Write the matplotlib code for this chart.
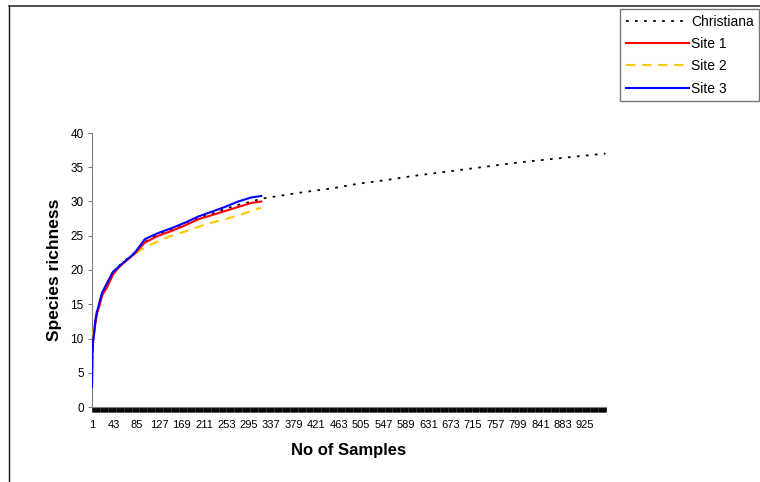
import matplotlib
matplotlib.use("Agg")
import matplotlib.pyplot as plt
from matplotlib.lines import Line2D

plt.rcParams['font.family'] = ['Liberation Sans', 'DejaVu Sans']

# sample counts and mean species richness read at those counts
site_n = [1, 2, 3, 5, 7, 10, 15, 20, 30, 40, 50, 60, 80, 100, 125, 150,
          175, 200, 225, 250, 275, 300, 318]
site1 = [7.8, 9.0, 9.8, 10.8, 12.0, 13.5, 14.8, 16.3, 17.6, 19.3, 20.3, 21.0,
         22.3, 24.0, 25.0, 25.7, 26.5, 27.4, 28.0, 28.6, 29.2, 29.8, 30.0]
site2 = [3.5, 9.5, 10.5, 11.8, 12.8, 14.2, 15.5, 16.6, 18.3, 19.6, 20.3, 21.0,
         22.3, 23.3, 24.2, 25.0, 25.6, 26.3, 26.9, 27.4, 28.0, 28.6, 29.1]
site3 = [2.9, 7.8, 9.5, 10.8, 12.5, 13.8, 15.3, 16.7, 18.2, 19.7, 20.4, 21.1,
         22.4, 24.5, 25.4, 26.1, 26.9, 27.8, 28.5, 29.2, 30.0, 30.6, 30.8]

christiana_n = [1, 2, 3, 5, 7, 10, 15, 20, 30, 40, 50, 60, 80, 100, 125, 150,
                175, 200, 225, 250, 275, 300, 318, 350, 400, 450, 500, 550,
                600, 650, 700, 750, 800, 850, 900, 963]
christiana = [3.0, 7.5, 9.3, 11.0, 12.3, 13.7, 15.2, 16.6, 18.2, 19.6, 20.5,
              21.2, 22.5, 24.1, 25.2, 26.0, 26.8, 27.6, 28.2, 28.9, 29.5, 30.0,
              30.4, 30.8, 31.4, 31.9, 32.6, 33.1, 33.7, 34.2, 34.7, 35.2, 35.7,
              36.1, 36.5, 37.0]

n_total = 964
xtick_pos = list(range(1, 926, 42))
xtick_labels = [str(v) for v in xtick_pos]

fig = plt.figure(figsize=(7.6, 4.82), dpi=100)
ax = fig.add_axes([92 / 760, 1 - 407 / 482, (606 - 92) / 760, (407 - 133) / 482])

ax.plot(christiana_n, christiana, color='black', lw=1.3,
        linestyle=(0, (1.5, 3.5)), label='Christiana', zorder=2)
ax.plot(site_n, site1, color='#FF0000', lw=1.5, label='Site 1', zorder=4)
ax.plot(site_n, site2, color='#FFC800', lw=1.5,
        linestyle=(0, (4.5, 3.2)), label='Site 2', zorder=3)
ax.plot(site_n, site3, color='#0000FF', lw=1.5, label='Site 3', zorder=5)

ax.set_xlim(1, n_total)
ax.set_ylim(0, 40)
ax.set_yticks(range(0, 41, 5))
ax.tick_params(axis='y', direction='out', length=3, width=0.8, color='#808080',
               labelsize=8.5, pad=3)
ax.set_xticks(xtick_pos)
ax.set_xticklabels(xtick_labels)
ax.set_xticks(range(1, n_total + 1), minor=True)
ax.tick_params(axis='x', which='both', direction='out', length=3.5, width=0.6,
               color='black', labelsize=8, pad=6)

for side in ('top', 'right'):
    ax.spines[side].set_visible(False)
ax.spines['left'].set_color('#808080')
ax.spines['bottom'].set_color('#808080')

ax.set_xlabel('No of Samples', fontsize=12, fontweight='bold', labelpad=9)
ax.set_ylabel('Species richness', fontsize=12.5, fontweight='bold', labelpad=6)

leg = fig.legend(loc='upper left', bbox_to_anchor=(620 / 760, 1 - 9 / 482),
                 fontsize=10, frameon=True, fancybox=False, handlelength=4.6,
                 handletextpad=0.1, labelspacing=0.6, borderpad=0.4,
                 borderaxespad=0)
leg.get_frame().set_edgecolor('#555555')
leg.get_frame().set_linewidth(1.0)

# chart area border along the top and left edges
fig.add_artist(Line2D([9 / 760, 1], [1 - 6 / 482, 1 - 6 / 482],
                      transform=fig.transFigure, color='#333333', lw=1.2))
fig.add_artist(Line2D([9 / 760, 9 / 760], [0, 1 - 6 / 482],
                      transform=fig.transFigure, color='#111111', lw=1.0))

fig.savefig('out.png', dpi=100)
